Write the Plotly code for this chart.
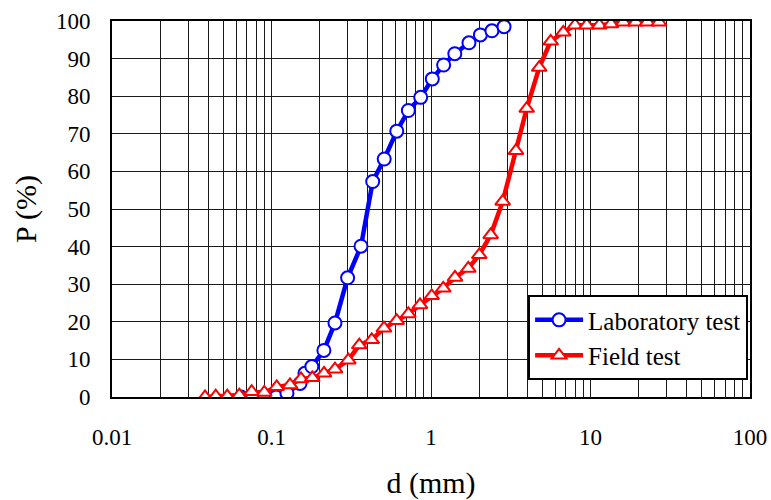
import plotly.graph_objects as go

lab_d = [0.0644, 0.0765, 0.0909, 0.107, 0.125, 0.151, 0.162, 0.179, 0.213, 0.25,
         0.30, 0.364, 0.431, 0.509, 0.61, 0.721, 0.862, 1.019, 1.20, 1.41,
         1.73, 2.04, 2.41, 2.87]
lab_p = [0, 0, 0, 0, 1.0, 3.6, 6.3, 8.1, 12.4, 19.7,
         31.7, 40.1, 57.3, 63.3, 70.7, 76.2, 79.7, 84.6, 88.3, 91.3,
         94.2, 96.3, 97.4, 98.5]

field_d = [0.0383, 0.0447, 0.0528, 0.0628, 0.0751, 0.0901, 0.1078, 0.1306, 0.1531, 0.1802,
           0.2134, 0.250, 0.303, 0.355, 0.425, 0.507, 0.609, 0.721, 0.853, 1.01,
           1.194, 1.414, 1.713, 2.008, 2.367, 2.815, 3.41, 3.98, 4.77, 5.63,
           6.75, 8.0, 9.47, 11.36, 13.44, 16.06, 19.2, 22.7, 26.9]
field_p = [0, 0.2, 0.2, 0.5, 1.4, 1.2, 2.7, 3.2, 4.8, 5.1,
           6.3, 7.4, 9.8, 13.8, 15.2, 18.3, 20.3, 22.1, 24.5, 26.9,
           28.9, 31.8, 34.2, 37.8, 43.1, 52.0, 65.5, 76.7, 87.6, 94.6,
           97.0, 98.9, 98.9, 98.9, 99.2, 99.7, 99.7, 99.7, 99.7]

x_ticks = [0.01, 0.1, 1, 10, 100]
x_tick_text = ["0.01", "0.1", "1", "10", "100"]
y_ticks = [0, 10, 20, 30, 40, 50, 60, 70, 80, 90, 100]

FONT = "Liberation Serif"

fig = go.Figure()
fig.add_trace(go.Scatter(
    x=lab_d, y=lab_p, mode="lines+markers", name="Laboratory test",
    line=dict(color="#0000FF", width=4.5),
    marker=dict(symbol="circle", size=13, color="white",
                line=dict(color="#0000FF", width=2)),
))
fig.add_trace(go.Scatter(
    x=field_d, y=field_p, mode="lines+markers", name="Field test",
    line=dict(color="#FF0000", width=4.5),
    marker=dict(symbol="triangle-up", size=13, color="white",
                line=dict(color="#FF0000", width=2)),
))

fig.update_layout(
    width=771, height=500,
    margin=dict(l=112, r=21, t=21, b=103),
    paper_bgcolor="white", plot_bgcolor="white",
    font=dict(family=FONT, size=23, color="black"),
    showlegend=True,
    legend=dict(x=0.997, xanchor="right", y=0.045, yanchor="bottom",
                bgcolor="white", bordercolor="black", borderwidth=2,
                font=dict(family=FONT, size=25, color="black"),
                tracegroupgap=0, itemwidth=48),
    xaxis=dict(
        type="log", range=[-2, 2], automargin=False,
        tickvals=x_ticks, ticktext=x_tick_text,
        tickfont=dict(family=FONT, size=23),
        ticklabeloverflow="allow",
        showgrid=True, gridcolor="#1a1a1a", gridwidth=1,
        minor=dict(dtick="D1", showgrid=True, gridcolor="#1a1a1a", gridwidth=1),
        showline=True, linecolor="black", linewidth=2, mirror=True,
        ticks="outside", ticklen=18, tickcolor="rgba(0,0,0,0)",
        zeroline=False,
        title=dict(text="d (mm)", font=dict(family=FONT, size=30), standoff=34),
    ),
    yaxis=dict(
        range=[0, 100], tickvals=y_ticks, automargin=False,
        tickfont=dict(family=FONT, size=23),
        showgrid=True, gridcolor="#1a1a1a", gridwidth=1,
        showline=True, linecolor="black", linewidth=2, mirror=True,
        ticks="outside", ticklen=15, tickcolor="rgba(0,0,0,0)",
        zeroline=False,
        title=dict(text="P (%)", font=dict(family=FONT, size=30), standoff=10),
    ),
)

fig.write_html(
    "out.html",
    config={"displayModeBar": False},
    post_script="document.body.style.margin='0';document.body.style.overflow='hidden';",
)
